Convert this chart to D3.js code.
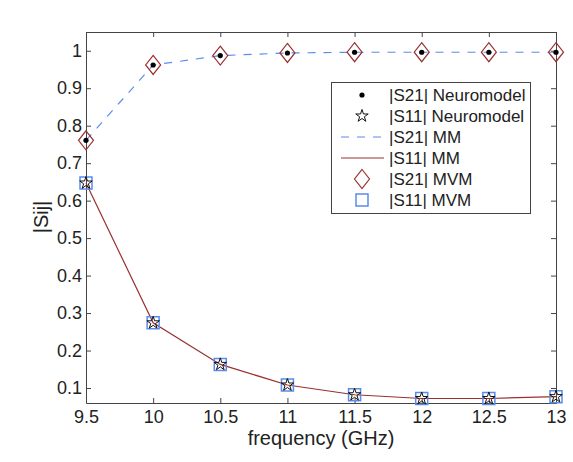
<!DOCTYPE html>
<html>
<head>
<meta charset="utf-8">
<script src="https://cdn.jsdelivr.net/npm/d3@7"></script>
<style>
  body { margin: 0; background: #fff; }
  svg { display: block; font-family: "Liberation Sans", Arial, sans-serif; }
</style>
</head>
<body>
<svg id="chart" width="573" height="462"></svg>
<script>
const frequency = [9.5, 10, 10.5, 11, 11.5, 12, 12.5, 13];
const s21Neuro = [0.761, 0.962, 0.987, 0.994, 0.996, 0.996, 0.996, 0.996];
const s11Neuro = [0.647, 0.274, 0.163, 0.108, 0.082, 0.072, 0.072, 0.077];
const s21MM = [0.761, 0.962, 0.987, 0.994, 0.996, 0.996, 0.996, 0.996];
const s11MM = [0.647, 0.274, 0.163, 0.108, 0.082, 0.072, 0.072, 0.077];
const s21MVM = [0.761, 0.962, 0.987, 0.994, 0.996, 0.996, 0.996, 0.996];
const s11MVM = [0.647, 0.274, 0.163, 0.108, 0.082, 0.072, 0.072, 0.077];
const xTicks = [9.5, 10, 10.5, 11, 11.5, 12, 12.5, 13];
const yTicks = [0.1, 0.2, 0.3, 0.4, 0.5, 0.6, 0.7, 0.8, 0.9, 1];
const legendLabels = ["|S21| Neuromodel", "|S11| Neuromodel", "|S21| MM", "|S11| MM", "|S21| MVM", "|S11| MVM"];

const svg = d3.select("#chart");
const margins = { left: 86, right: 17, top: 32, bottom: 59 };
const width = 573, height = 462;

const blue = "#5b8cec";
const red = "#9a3030";
const axisColor = "#444";

const xScale = d3.scaleLinear().domain([9.5, 13]).range([margins.left, width - margins.right]);
const yScale = d3.scaleLinear().domain([0.06, 1.05]).range([height - margins.bottom, margins.top]);

// axes (ticks point inward, mirrored on top/right)
const styleAxis = (g) => {
    g.select(".domain").attr("stroke", axisColor);
    g.selectAll(".tick line").attr("stroke", axisColor);
    g.selectAll("text").attr("fill", "#222").attr("font-size", 18).attr("font-family", "Liberation Sans, Arial, sans-serif");
};

svg.append("g")
    .attr("transform", `translate(0,${height - margins.bottom})`)
    .call(d3.axisBottom(xScale).tickValues(xTicks).tickSizeInner(-5).tickSizeOuter(0).tickPadding(7).tickFormat(d3.format("")))
    .call(styleAxis);
svg.append("g")
    .attr("transform", `translate(0,${margins.top})`)
    .call(d3.axisTop(xScale).tickValues(xTicks).tickSizeInner(-5).tickSizeOuter(0).tickFormat(""))
    .call(styleAxis);
svg.append("g")
    .attr("transform", `translate(${margins.left},0)`)
    .call(d3.axisLeft(yScale).tickValues(yTicks).tickSizeInner(-5).tickSizeOuter(0).tickPadding(4).tickFormat(d3.format("")))
    .call(styleAxis);
svg.append("g")
    .attr("transform", `translate(${width - margins.right},0)`)
    .call(d3.axisRight(yScale).tickValues(yTicks).tickSizeInner(-5).tickSizeOuter(0).tickFormat(""))
    .call(styleAxis);

// axis labels
svg.append("text")
    .attr("x", (margins.left + width - margins.right) / 2)
    .attr("y", 445)
    .attr("text-anchor", "middle")
    .attr("font-size", 20)
    .attr("fill", "#222")
    .text("frequency (GHz)");
svg.append("text")
    .attr("transform", `translate(48,217) rotate(-90)`)
    .attr("text-anchor", "middle")
    .attr("font-size", 20)
    .attr("fill", "#222")
    .text("|Sij|");

// marker helpers
const diamondPath = (w, h) => `M0,${-h}L${w},0L0,${h}L${-w},0Z`;
const starPath = d3.symbol().type(d3.symbolStar).size(48)();
const squarePath = d3.symbol().type(d3.symbolSquare).size(144)();

const line = d3.line().x((d, i) => xScale(frequency[i])).y((d) => yScale(d));

svg.append("path").datum(s21MM)
    .attr("d", line).attr("fill", "none")
    .attr("stroke", blue).attr("stroke-width", 1.2).attr("stroke-dasharray", "8,8");
svg.append("path").datum(s11MM)
    .attr("d", line).attr("fill", "none")
    .attr("stroke", red).attr("stroke-width", 1.2);

svg.append("g").selectAll("path").data(s21MVM).join("path")
    .attr("transform", (d, i) => `translate(${xScale(frequency[i])},${yScale(d)})`)
    .attr("d", diamondPath(7.5, 9.5))
    .attr("fill", "none").attr("stroke", red).attr("stroke-width", 1.2);
svg.append("g").selectAll("path").data(s11MVM).join("path")
    .attr("transform", (d, i) => `translate(${xScale(frequency[i])},${yScale(d)})`)
    .attr("d", squarePath)
    .attr("fill", "none").attr("stroke", blue).attr("stroke-width", 1.5);
svg.append("g").selectAll("circle").data(s21Neuro).join("circle")
    .attr("cx", (d, i) => xScale(frequency[i]))
    .attr("cy", (d) => yScale(d))
    .attr("r", 2.6).attr("fill", "#000");
svg.append("g").selectAll("path").data(s11Neuro).join("path")
    .attr("transform", (d, i) => `translate(${xScale(frequency[i])},${yScale(d)})`)
    .attr("d", starPath)
    .attr("fill", "none").attr("stroke", "#111").attr("stroke-width", 1);

// legend
const legend = svg.append("g");
legend.append("rect")
    .attr("x", 331.5).attr("y", 82.5).attr("width", 199).attr("height", 131)
    .attr("fill", "#fff").attr("stroke", axisColor).attr("stroke-width", 1);
const rowY = (i) => 95 + i * 21;
const symX = 362;
legendLabels.forEach((label, i) => {
    const y = rowY(i);
    if (i === 0) legend.append("circle").attr("cx", symX).attr("cy", y).attr("r", 2.6).attr("fill", "#000");
    if (i === 1) legend.append("path").attr("transform", `translate(${symX},${y})`).attr("d", starPath).attr("fill", "none").attr("stroke", "#111");
    if (i === 2) legend.append("line").attr("x1", 341).attr("x2", 384).attr("y1", y).attr("y2", y).attr("stroke", blue).attr("stroke-width", 1.2).attr("stroke-dasharray", "8,8");
    if (i === 3) legend.append("line").attr("x1", 341).attr("x2", 384).attr("y1", y).attr("y2", y).attr("stroke", red).attr("stroke-width", 1.2);
    if (i === 4) legend.append("path").attr("transform", `translate(${symX},${y})`).attr("d", diamondPath(7.5, 9.5)).attr("fill", "none").attr("stroke", red).attr("stroke-width", 1.2);
    if (i === 5) legend.append("path").attr("transform", `translate(${symX},${y})`).attr("d", squarePath).attr("fill", "none").attr("stroke", blue).attr("stroke-width", 1.5);
    legend.append("text")
        .attr("x", 389).attr("y", y + 6)
        .attr("font-size", 17).attr("fill", "#222")
        .text(label);
});
</script>
</body>
</html>
